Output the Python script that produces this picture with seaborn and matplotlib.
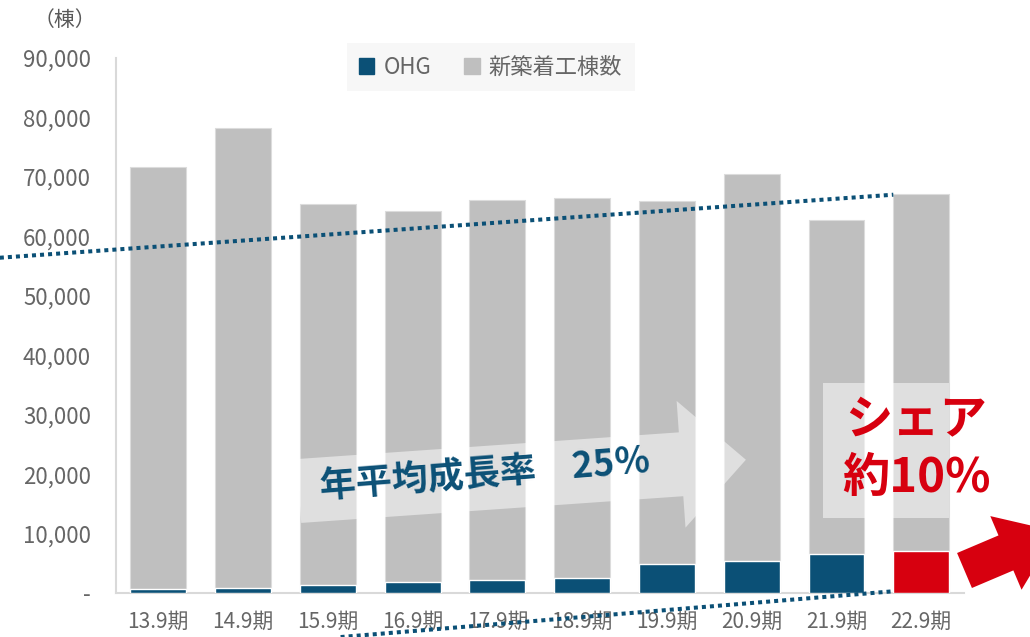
import numpy as np
import pandas as pd
import matplotlib
matplotlib.use("Agg")
import matplotlib.pyplot as plt
import matplotlib.patches as mpatches
from matplotlib.transforms import IdentityTransform
import seaborn as sns

# data
periods = ["13.9期", "14.9期", "15.9期", "16.9期", "17.9期",
           "18.9期", "19.9期", "20.9期", "21.9期", "22.9期"]
starts = [71700, 78200, 65400, 64300, 66100, 66400, 65900, 70500, 62800, 67200]
ohg = [750, 850, 1300, 1800, 2200, 2600, 4900, 5400, 6600, 7100]
yticks = [0, 10000, 20000, 30000, 40000, 50000, 60000, 70000, 80000, 90000]
ytick_labels = ["-", "10,000", "20,000", "30,000", "40,000",
                "50,000", "60,000", "70,000", "80,000", "90,000"]

BLUE = "#0B5076"
GRAY = "#BFBFBF"
RED = "#D7000F"
TXT = "#666666"

df = pd.DataFrame({"period": periods, "starts": starts, "ohg": ohg})

sns.set_style("white")
plt.rcParams["font.family"] = ["Noto Sans CJK JP", "DejaVu Sans"]

fig = plt.figure(figsize=(10.3, 6.37), dpi=100)
ax = fig.add_axes([0.1126, 0.069, 0.823, 0.840])

sns.barplot(data=df, x="period", y="starts", color=GRAY, width=0.66,
            saturation=1, edgecolor="#DCDCDC", linewidth=0.8, ax=ax, zorder=2)
ohg_colors = [BLUE] * (len(periods) - 1) + [RED]
sns.barplot(data=df, x="period", y="ohg", hue="period", palette=ohg_colors,
            width=0.66, saturation=1, legend=False, ax=ax, zorder=3)

ax.set_xlim(-0.5, len(periods) - 0.5)
ax.set_ylim(0, 90000)
ax.set_yticks(yticks)
ax.set_yticklabels(ytick_labels)
ax.set_xlabel("")
ax.set_ylabel("")
ax.tick_params(axis="y", length=0, pad=18, labelsize=16, labelcolor=TXT)
ax.tick_params(axis="x", length=0, pad=13, labelsize=15, labelcolor=TXT)
for s in ["top", "right"]:
    ax.spines[s].set_visible(False)
for s in ["left", "bottom"]:
    ax.spines[s].set_color("#D9D9D9")
    ax.spines[s].set_linewidth(1.5)

fig.text(65 / 1030, 1 - 20 / 637, "（棟）", ha="center", va="center",
         fontsize=15, color="#595959")

# legend
handles = [mpatches.Patch(color=BLUE, label="OHG"),
           mpatches.Patch(color=GRAY, label="新築着工棟数")]
leg = ax.legend(handles=handles, loc="center", bbox_to_anchor=(0.442, 0.983),
                ncol=2, frameon=True, fontsize=16, handlelength=0.7,
                handleheight=0.7, handletextpad=0.4, columnspacing=1.5,
                borderpad=0.55, fancybox=False)
leg.get_frame().set_facecolor("#F5F5F5")
leg.get_frame().set_edgecolor("none")
for t in leg.get_texts():
    t.set_color(TXT)

# dotted trend lines
ax.plot([-1.87, 8.67], [56400, 67000], color=BLUE, lw=2.9,
        linestyle=(0, (1, 1)), clip_on=False, zorder=6)
ax.plot([2.15, 8.67], [-7400, 300], color=BLUE, lw=2.9,
        linestyle=(0, (1, 1)), clip_on=False, zorder=6)


def arrow_poly(tail, ang, length, shaft_w, head_w, head_len):
    # polygon in display pixels, tail centre given in screen pixels (y down)
    c = np.array([tail[0], 637 - tail[1]], float)
    a = np.deg2rad(ang)
    u = np.array([np.cos(a), np.sin(a)])
    n = np.array([-u[1], u[0]])
    b = length - head_len
    pts = [c + n * shaft_w / 2, c + b * u + n * shaft_w / 2,
           c + b * u + n * head_w / 2, c + length * u,
           c + b * u - n * head_w / 2, c + b * u - n * shaft_w / 2,
           c - n * shaft_w / 2]
    return np.array(pts)


# growth arrow (translucent white)
big = mpatches.Polygon(arrow_poly((299, 491), 4.0, 448, 64, 127, 65),
                       closed=True, transform=IdentityTransform(),
                       facecolor="white", alpha=0.5, edgecolor="none",
                       zorder=4, clip_on=False)
ax.add_patch(big)
ax.text(3.86, 20000, "年平均成長率　25％", ha="center", va="center",
        rotation=4.5, rotation_mode="anchor", fontsize=26,
        fontweight="bold", color=BLUE, zorder=7)

# share box
ax.add_patch(mpatches.Rectangle((7.84, 12600), 1.49, 22700, facecolor="white",
                                alpha=0.5, edgecolor="none", zorder=4,
                                clip_on=False))
ax.text(8.94, 29100, "シェア", ha="center", va="center", fontsize=34,
        fontweight="bold", color=RED, zorder=7)
ax.text(8.94, 19300, "約10%", ha="center", va="center", fontsize=34,
        fontweight="bold", color=RED, zorder=7)

# red arrow at bottom right
red = mpatches.Polygon(arrow_poly((964.5, 570.5), 23, 100, 38, 80, 55),
                       closed=True, transform=IdentityTransform(),
                       facecolor=RED, edgecolor="none", zorder=7,
                       clip_on=False)
ax.add_patch(red)

fig.savefig("out.png", dpi=100)
